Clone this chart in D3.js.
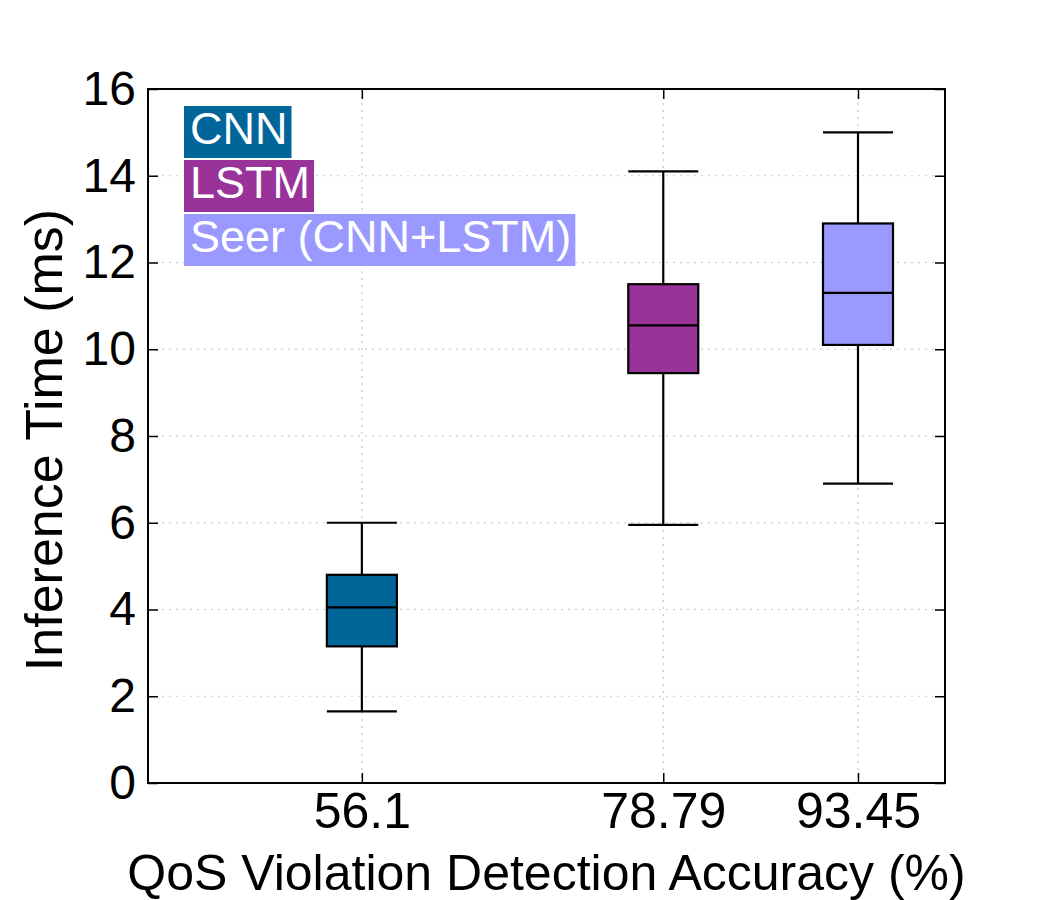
<!DOCTYPE html>
<html><head><meta charset="utf-8">
<script src="https://cdn.jsdelivr.net/npm/d3@7"></script>
<style>body{margin:0;background:#fff;} text{font-family:"Liberation Sans",Arial,Helvetica,sans-serif;}</style>
</head><body>
<svg id="c" width="1050" height="900"></svg>
<script>
const models = ["CNN", "LSTM", "Seer (CNN+LSTM)"];
const accuracy = [56.1, 78.79, 93.45];
const whiskerLow = [1.65, 5.95, 6.9];
const q1 = [3.15, 9.45, 10.1];
const median = [4.05, 10.55, 11.3];
const q3 = [4.8, 11.5, 12.9];
const whiskerHigh = [6.0, 14.1, 15.0];
const colors = ["#006699", "#993399", "#9999ff"];
const yTicks = [0, 2, 4, 6, 8, 10, 12, 14, 16];
const xTickLabels = ["56.1", "78.79", "93.45"];

const L = 148, R = 945, T = 89, B = 783;
const svg = d3.select("#c");
const x = d3.scaleLinear().domain([40, 100]).range([L, R]);
const y = d3.scaleLinear().domain([0, 16]).range([B, T]);
const boxW = 70;

// grid
const grid = svg.append("g");
grid.selectAll("line.gy").data(yTicks.slice(1, -1)).join("line")
  .attr("x1", L).attr("x2", R).attr("y1", d => y(d)).attr("y2", d => y(d))
  .attr("stroke", "#c8c8c8").attr("stroke-width", 1.2).attr("stroke-dasharray", "2,5");
grid.selectAll("line.gx").data(accuracy).join("line")
  .attr("y1", T).attr("y2", B).attr("x1", d => x(d)).attr("x2", d => x(d))
  .attr("stroke", "#c8c8c8").attr("stroke-width", 1.2).attr("stroke-dasharray", "2,5");

// axes (inward ticks on all sides)
const tickLen = 10;
const axL = svg.append("g").attr("transform", `translate(${L},0)`)
  .call(d3.axisLeft(y).tickValues(yTicks).tickSize(-tickLen).tickPadding(12).tickFormat(d3.format("d")));
const axR = svg.append("g").attr("transform", `translate(${R},0)`)
  .call(d3.axisRight(y).tickValues(yTicks).tickSize(-tickLen).tickFormat(""));
const axB = svg.append("g").attr("transform", `translate(0,${B})`)
  .call(d3.axisBottom(x).tickValues(accuracy).tickSize(-tickLen).tickPadding(9).tickFormat((d, i) => xTickLabels[i]));
const axT = svg.append("g").attr("transform", `translate(0,${T})`)
  .call(d3.axisTop(x).tickValues(accuracy).tickSize(-tickLen).tickFormat(""));
[axL, axR, axB, axT].forEach(a => {
  a.select(".domain").remove();
  a.selectAll(".tick line").attr("stroke", "#000").attr("stroke-width", 1.5);
});
axL.selectAll(".tick text").attr("font-size", 48).attr("fill", "#000")
  .attr("font-family", "Liberation Sans, Arial, sans-serif");
axB.selectAll(".tick text").attr("font-size", 50).attr("fill", "#000")
  .attr("font-family", "Liberation Sans, Arial, sans-serif");

// boxes
const g = svg.append("g");
models.forEach((m, i) => {
  const cx = x(accuracy[i]);
  const line = (x1, y1, x2, y2) => g.append("line").attr("x1", x1).attr("y1", y1).attr("x2", x2).attr("y2", y2)
    .attr("stroke", "#000").attr("stroke-width", 2.2);
  line(cx, y(whiskerLow[i]), cx, y(q1[i]));
  line(cx, y(q3[i]), cx, y(whiskerHigh[i]));
  line(cx - boxW / 2, y(whiskerLow[i]), cx + boxW / 2, y(whiskerLow[i]));
  line(cx - boxW / 2, y(whiskerHigh[i]), cx + boxW / 2, y(whiskerHigh[i]));
  g.append("rect").attr("x", cx - boxW / 2).attr("width", boxW)
    .attr("y", y(q3[i])).attr("height", y(q1[i]) - y(q3[i]))
    .attr("fill", colors[i]).attr("stroke", "#000").attr("stroke-width", 2.2);
  line(cx - boxW / 2, y(median[i]), cx + boxW / 2, y(median[i]));
});

// frame
svg.append("rect").attr("x", L).attr("y", T).attr("width", R - L).attr("height", B - T)
  .attr("fill", "none").attr("stroke", "#000").attr("stroke-width", 2);

// legend
const leg = svg.append("g");
models.forEach((m, i) => {
  const top = 106 + i * 54;
  const r = leg.append("rect").attr("x", 184).attr("y", top).attr("height", 52).attr("fill", colors[i]);
  const t = leg.append("text").attr("x", 190).attr("y", top + 38).attr("font-size", 45)
    .attr("fill", "#fff").text(m);
  r.attr("width", t.node().getComputedTextLength() + 10);
});

// axis labels
svg.append("text").attr("x", (L + R) / 2).attr("y", 890).attr("text-anchor", "middle")
  .attr("font-size", 50).attr("fill", "#000").text("QoS Violation Detection Accuracy (%)");
svg.append("text").attr("transform", `translate(62,${(T + B) / 2 + 4}) rotate(-90)`).attr("text-anchor", "middle")
  .attr("font-size", 52).attr("fill", "#000").text("Inference Time (ms)");
</script>
</body></html>
